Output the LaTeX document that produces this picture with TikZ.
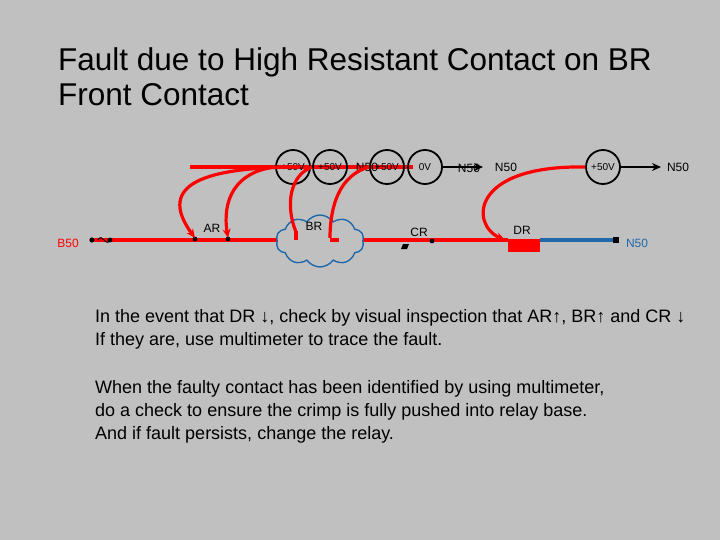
\documentclass[tikz,border=0pt]{standalone}
\usepackage{fontspec}
\setmainfont{Liberation Sans}
\usetikzlibrary{shapes.symbols,arrows.meta}
\definecolor{bg}{RGB}{192,192,192}
\definecolor{bl}{RGB}{31,105,170}
\begin{document}
\begin{tikzpicture}[x=1pt,y=-1pt,
 circ/.style={draw=black,line width=1.8pt,circle,minimum size=34pt,inner sep=0pt,font=\fontsize{10}{11}\selectfont},
 lbl/.style={font=\fontsize{12}{13}\selectfont,inner sep=0pt},
 rw/.style={draw=red,line width=3.2pt},
 arc/.style={rw,-{Stealth[length=9pt,width=8pt]}},
 bk/.style={draw=black,line width=1.8pt,-{Stealth[length=9pt,width=8pt]}},
 txt/.style={font=\fontsize{18}{23}\selectfont,align=left,anchor=north west,inner sep=0pt}]
\fill[bg] (0,0) rectangle (720,540);
\node[anchor=north west,inner sep=0pt,align=left,font=\fontsize{31.5}{35}\selectfont] (t) at (58,47) {Fault due to High Resistant Contact on BR\\Front Contact};
% main line
\coordinate (b0) at (92,240);
\coordinate (d0) at (508,240);
\draw[rw] (b0) -- (d0);
% cloud
\node[cloud,cloud puffs=10,cloud puff arc=110,aspect=1.7,draw=bl,fill=bg,line width=1.4pt,minimum width=88pt,minimum height=52pt] (cl) at (320,241) {};
\draw[rw] (296,240) -- (296,231);
\draw[rw] (330,240) -- (339,240);
\fill (92,240) circle (2.6);
\draw[line width=1pt] (98,240) .. controls (102,232) and (106,248) .. (110,240);
\fill (110,240) circle (2.4);
\node[lbl,text=red] (b50) at (68,243) {B50};
\node[fill=red,minimum width=32pt,minimum height=13pt,inner sep=0pt,anchor=north west] (dr) at (508,239) {};
\coordinate (e0) at (616,240);
\draw[draw=bl,line width=3.2pt] (540,240) -- (e0);
\fill (613,237) rectangle (619,243);
\node[lbl,text=bl] (n50b) at (637,243) {N50};
\node[lbl] (ar) at (212,228) {AR};
\node[lbl] (br) at (314,226) {BR};
\node[lbl] (cr) at (419,232) {CR};
\node[lbl] (drl) at (522,230) {DR};
\fill (403,244) -- (409,244) -- (407,249) -- (401,249) -- cycle;
\fill (432,241) circle (2.4);
\fill (228,239) circle (2.4);
\fill (195,239) circle (2.4);
% top line
\draw[rw] (190,167) -- (413,167);
\node[circ] (p1) at (293,167) {+50V};
\node[circ] (p2) at (330,167) {+50V};
\node[lbl] (n1) at (367,167) {N50};
\node[circ] (p3) at (387,167) {+50V};
\node[circ] (p4) at (425,167) {0V};
\coordinate (q) at (483,167);
\draw[bk] (p4.east) -- (q);
\node[lbl] (n2) at (469,168) {N50};
\node[lbl] (n3) at (506,167) {N50};
\node[circ] (p5) at (603,167) {+50V};
\coordinate (q2) at (661,167);
\draw[bk] (p5.east) -- (q2);
\node[lbl] (n4) at (678,167) {N50};
% arcs
\coordinate (a1) at (195,238);
\coordinate (a2) at (228,238);
\coordinate (a4) at (330,238);
\coordinate (a5) at (505,240);
\draw[arc] (300,167) .. controls (190,167) and (160,190) .. (a1);
\draw[arc] (p1.west) .. controls (235,172) and (222,200) .. (a2);
\draw[rw] (p2.west) .. controls (290,175) and (285,205) .. (296,232);
\draw[rw] (p3.west) .. controls (340,175) and (330,205) .. (a4);
\draw[arc] (p5.west) .. controls (470,165) and (470,225) .. (a5);
% text
\node[txt] (x1) at (95,309) {In the event that DR ↓, check by visual inspection that AR↑, BR↑ and CR ↓\\If they are, use multimeter to trace the fault.};
\node[txt] (x2) at (95,380) {When the faulty contact has been identified by using multimeter,\\do a check to ensure the crimp is fully pushed into relay base.\\And if fault persists, change the relay.};
\end{tikzpicture}
\end{document}
